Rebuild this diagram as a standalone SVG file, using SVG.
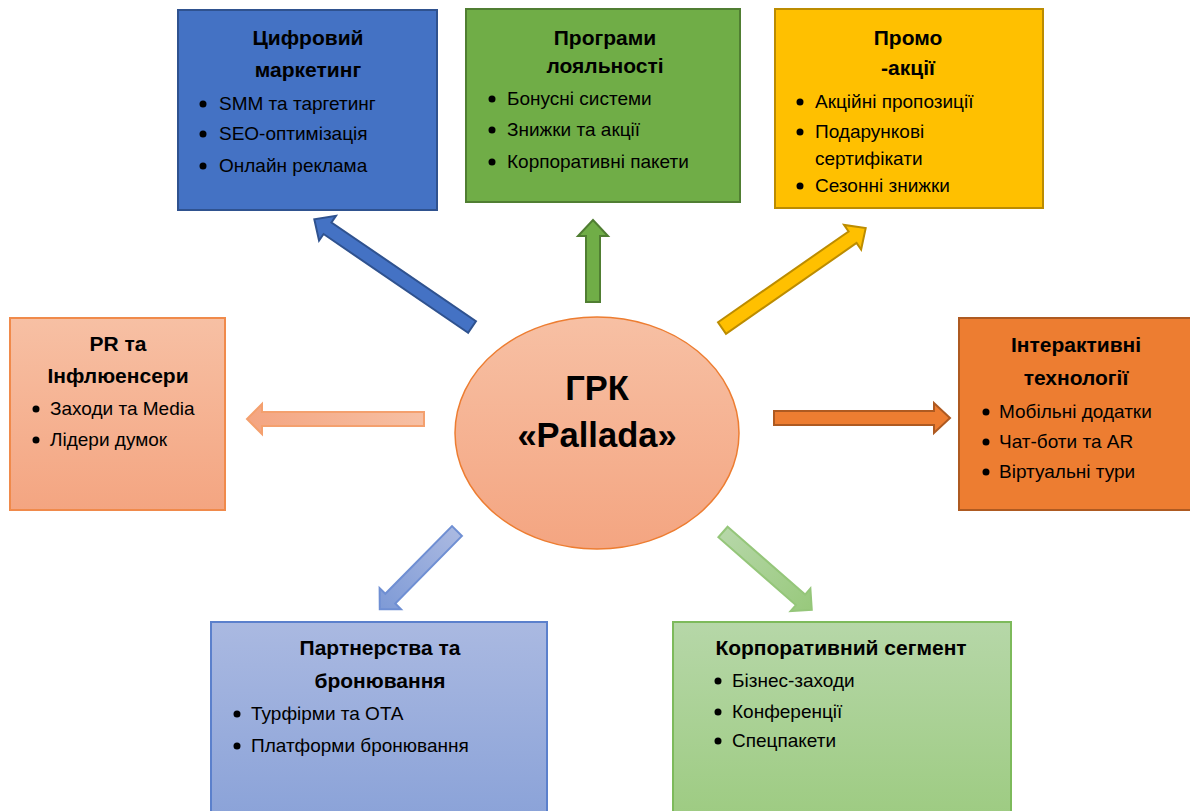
<svg xmlns="http://www.w3.org/2000/svg" width="1190" height="811" viewBox="0 0 1190 811">
<defs>
<style>
text{font-family:"Liberation Sans",Arial,sans-serif;fill:#000;}
.t{font-weight:bold;font-size:21px;text-anchor:middle;}
.b{font-size:19px;}
.c{font-weight:bold;font-size:34.5px;text-anchor:middle;}
.dot{fill:#000;}
.box{stroke-width:2;}
.arr{stroke-width:2;stroke-linejoin:miter;}
</style>
<linearGradient id="gPR" x1="0" y1="0" x2="0" y2="1"><stop offset="0" stop-color="#F7C0A4"/><stop offset="1" stop-color="#F4A581"/></linearGradient>
<linearGradient id="gCen" x1="0" y1="0" x2="0" y2="1"><stop offset="0" stop-color="#F7C0A4"/><stop offset="1" stop-color="#F4A581"/></linearGradient>
<linearGradient id="gPart" x1="0" y1="0" x2="0" y2="1"><stop offset="0" stop-color="#AAB9E1"/><stop offset="1" stop-color="#8AA2D8"/></linearGradient>
<linearGradient id="gCorp" x1="0" y1="0" x2="0" y2="1"><stop offset="0" stop-color="#B6D7A8"/><stop offset="1" stop-color="#9DCB81"/></linearGradient>
<linearGradient id="gAPR" x1="0" y1="0" x2="1" y2="0"><stop offset="0" stop-color="#F7C0A4"/><stop offset="1" stop-color="#F4A581"/></linearGradient>
<linearGradient id="gABl" x1="0" y1="0" x2="1" y2="0"><stop offset="0" stop-color="#AAB9E1"/><stop offset="1" stop-color="#7E9AD6"/></linearGradient>
<linearGradient id="gAGr" x1="0" y1="0" x2="1" y2="0"><stop offset="0" stop-color="#B6D7A8"/><stop offset="1" stop-color="#98C97C"/></linearGradient>
</defs>
<rect width="1190" height="811" fill="#FFFFFF"/>

<g id="connectors">
<polygon class="arr" fill="#4472C4" stroke="#2F528F" transform="translate(472,327) rotate(214.35)" points="0,-7 175,-7 175,-15 191,0 175,15 175,7 0,7"/>
<polygon class="arr" fill="#70AD47" stroke="#507E32" transform="translate(593,302) rotate(-90)" points="0,-7 66,-7 66,-15 82,0 66,15 66,7 0,7"/>
<polygon class="arr" fill="#FFC000" stroke="#BC8C00" transform="translate(722,328) rotate(-34.8)" points="0,-7 159,-7 159,-15 175,0 159,15 159,7 0,7"/>
<polygon class="arr" fill="#ED7D31" stroke="#AE5A21" transform="translate(774,418)" points="0,-7 160,-7 160,-15 176,0 160,15 160,7 0,7"/>
<polygon class="arr" fill="url(#gAPR)" stroke="#F4A06E" transform="translate(424,419) rotate(180)" points="0,-7 162,-7 162,-15 177,0 162,15 162,7 0,7"/>
<polygon class="arr" fill="url(#gABl)" stroke="#6F8FD3" transform="translate(457,531) rotate(134.6)" points="0,-7 95,-7 95,-15 110,0 95,15 95,7 0,7"/>
<polygon class="arr" fill="url(#gAGr)" stroke="#95C67A" transform="translate(723,532) rotate(41.2)" points="0,-7 103,-7 103,-15 118,0 103,15 103,7 0,7"/>
</g>

<g id="center">
<ellipse cx="597" cy="433" rx="142" ry="116" fill="url(#gCen)" stroke="#ED7D31" stroke-width="1.5"/>
<text class="c" x="597" y="400">ГРК</text>
<text class="c" x="597" y="447">«Pallada»</text>
</g>

<g id="digital">
<rect class="box" x="178" y="10" width="259" height="200" fill="#4472C4" stroke="#2F528F"/>
<text class="t" x="308" y="45">Цифровий</text>
<text class="t" x="308" y="77">маркетинг</text>
<circle class="dot" cx="203" cy="104" r="3.5"/><text class="b" x="219" y="110">SMM та таргетинг</text>
<circle class="dot" cx="203" cy="134" r="3.5"/><text class="b" x="219" y="140">SEO-оптимізація</text>
<circle class="dot" cx="203" cy="166" r="3.5"/><text class="b" x="219" y="172">Онлайн реклама</text>
</g>

<g id="loyalty">
<rect class="box" x="466" y="9" width="274" height="193" fill="#70AD47" stroke="#507E32"/>
<text class="t" x="605" y="45">Програми</text>
<text class="t" x="605" y="73">лояльності</text>
<circle class="dot" cx="492" cy="99" r="3.5"/><text class="b" x="507" y="105">Бонусні системи</text>
<circle class="dot" cx="492" cy="130" r="3.5"/><text class="b" x="507" y="136">Знижки та акції</text>
<circle class="dot" cx="492" cy="162" r="3.5"/><text class="b" x="507" y="168">Корпоративні пакети</text>
</g>

<g id="promo">
<rect class="box" x="775" y="9" width="268" height="199" fill="#FFC000" stroke="#BC8C00"/>
<text class="t" x="908" y="45">Промо</text>
<text class="t" x="908" y="75">-акції</text>
<circle class="dot" cx="800" cy="102" r="3.5"/><text class="b" x="815" y="108">Акційні пропозиції</text>
<circle class="dot" cx="800" cy="132" r="3.5"/><text class="b" x="815" y="138">Подарункові</text>
<text class="b" x="815" y="165">сертифікати</text>
<circle class="dot" cx="800" cy="186" r="3.5"/><text class="b" x="815" y="192">Сезонні знижки</text>
</g>

<g id="pr">
<rect class="box" x="10" y="318" width="215" height="192" fill="url(#gPR)" stroke="#F08A4B"/>
<text class="t" x="118" y="351">PR та</text>
<text class="t" x="118" y="383">Інфлюенсери</text>
<circle class="dot" cx="36" cy="409" r="3.5"/><text class="b" x="50" y="415">Заходи та Media</text>
<circle class="dot" cx="36" cy="440" r="3.5"/><text class="b" x="50" y="446">Лідери думок</text>
</g>

<g id="interactive">
<rect class="box" x="959" y="318" width="235" height="192" fill="#ED7D31" stroke="#AE5A21"/>
<text class="t" x="1076" y="352">Інтерактивні</text>
<text class="t" x="1076" y="385">технології</text>
<circle class="dot" cx="986" cy="412" r="3.5"/><text class="b" x="999" y="418">Мобільні додатки</text>
<circle class="dot" cx="986" cy="442" r="3.5"/><text class="b" x="999" y="448">Чат-боти та AR</text>
<circle class="dot" cx="986" cy="472" r="3.5"/><text class="b" x="999" y="478">Віртуальні тури</text>
</g>

<g id="partners">
<rect class="box" x="211" y="622" width="336" height="200" fill="url(#gPart)" stroke="#5B80CC"/>
<text class="t" x="380" y="655">Партнерства та</text>
<text class="t" x="380" y="688">бронювання</text>
<circle class="dot" cx="237" cy="714" r="3.5"/><text class="b" x="251" y="720">Турфірми та ОТА</text>
<circle class="dot" cx="237" cy="746" r="3.5"/><text class="b" x="251" y="752">Платформи бронювання</text>
</g>

<g id="corporate">
<rect class="box" x="673" y="622" width="338" height="200" fill="url(#gCorp)" stroke="#7DBA5B"/>
<text class="t" x="841" y="655">Корпоративний сегмент</text>
<circle class="dot" cx="718" cy="681" r="3.5"/><text class="b" x="732" y="687">Бізнес-заходи</text>
<circle class="dot" cx="718" cy="712" r="3.5"/><text class="b" x="732" y="718">Конференції</text>
<circle class="dot" cx="718" cy="741" r="3.5"/><text class="b" x="732" y="747">Спецпакети</text>
</g>
</svg>
